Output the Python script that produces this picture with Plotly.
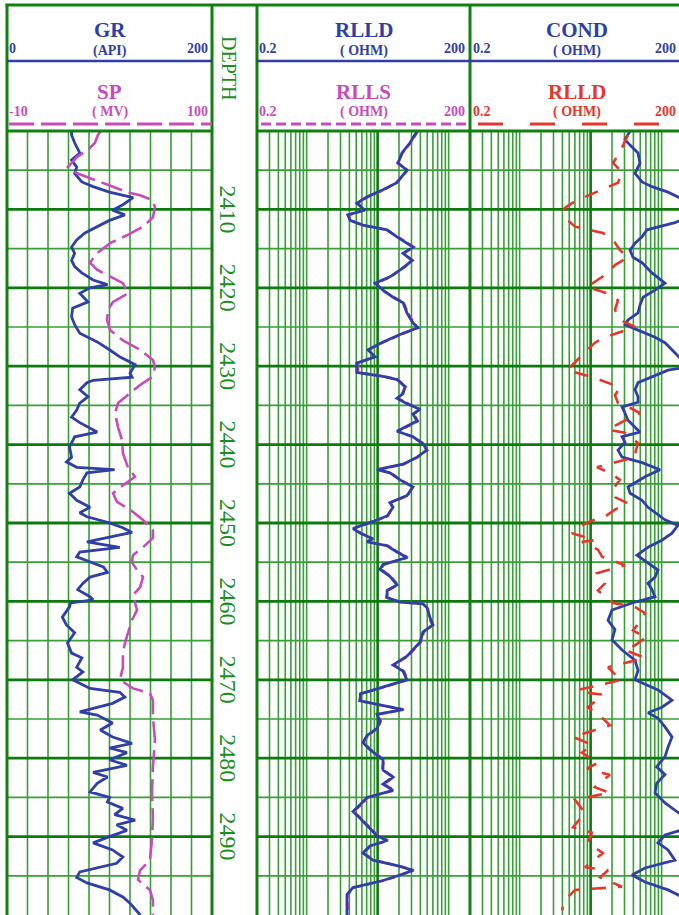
import math
import plotly.graph_objects as go

# ---------------- data (depth in ft, curve values in curve units) ----------------
gr_depth = [2400.0, 2400.5, 2401.5, 2402.8, 2403.7, 2404.6, 2405.4, 2406.5, 2407.1, 2407.8,
            2408.5, 2409.4, 2410.1, 2410.7, 2411.4, 2412.2, 2413.0, 2413.9, 2414.8, 2415.6,
            2416.5, 2417.3, 2418.1, 2419.0, 2419.6, 2420.0, 2420.7, 2421.8, 2422.6, 2423.7,
            2424.7, 2425.8, 2426.9, 2427.9, 2428.8, 2429.8, 2430.9, 2431.4, 2431.8, 2432.1,
            2433.0, 2433.9, 2434.7, 2435.6, 2436.5, 2437.2, 2438.4, 2439.0, 2440.3, 2441.6,
            2442.2, 2442.9, 2443.2, 2443.6, 2444.5, 2445.4, 2446.2, 2447.1, 2448.0, 2448.7,
            2449.2, 2449.9, 2450.6, 2451.2, 2451.8, 2452.4, 2453.1, 2453.7, 2454.3, 2455.0,
            2455.6, 2456.3, 2456.9, 2457.7, 2458.5, 2459.4, 2459.8, 2460.2, 2460.7, 2462.0,
            2463.0, 2464.0, 2465.3, 2466.6, 2467.2, 2468.4, 2469.0, 2470.0, 2471.1, 2471.6,
            2472.2, 2473.0, 2474.1, 2474.5, 2475.5, 2476.4, 2477.3, 2478.1, 2478.7, 2479.3,
            2480.2, 2480.9, 2481.8, 2482.4, 2483.2, 2484.3, 2485.0, 2485.6, 2486.4, 2487.2,
            2487.9, 2488.5, 2489.2, 2490.1, 2490.8, 2491.7, 2492.6, 2493.4, 2494.5, 2495.2,
            2495.9, 2496.8, 2497.7, 2498.5, 2499.6, 2500.0]
gr_api = [63, 63, 66, 71, 63, 68, 66, 73, 84, 100,
          123, 113, 103, 115, 100, 88, 76, 68, 63, 66,
          63, 66, 73, 84, 98, 81, 71, 79, 64, 63,
          66, 71, 88, 100, 110, 125, 120, 122, 84, 78,
          71, 79, 71, 68, 63, 71, 88, 66, 61, 63,
          58, 68, 105, 78, 74, 71, 61, 68, 81, 71,
          78, 98, 113, 122, 100, 78, 110, 71, 68, 81,
          94, 98, 81, 74, 69, 81, 84, 62, 61, 54,
          58, 66, 59, 63, 73, 68, 74, 64, 81, 110,
          115, 103, 71, 88, 103, 91, 103, 122, 100, 117,
          100, 117, 84, 98, 88, 81, 100, 98, 113, 105,
          125, 107, 117, 98, 84, 103, 113, 107, 71, 68,
          78, 100, 113, 120, 127, 130]

sp_depth = [2400.0, 2400.5, 2401.5, 2402.4, 2403.3, 2404.6, 2405.4, 2406.3, 2407.1, 2407.8,
            2408.2, 2408.8, 2409.7, 2411.0, 2412.2, 2413.3, 2414.3, 2415.6, 2416.8, 2417.7,
            2418.6, 2419.4, 2420.7, 2421.8, 2422.8, 2424.1, 2425.4, 2426.7, 2427.9, 2429.2,
            2430.2, 2431.4, 2432.4, 2433.4, 2434.7, 2436.0, 2437.8, 2439.4, 2441.1, 2442.9,
            2444.1, 2445.2, 2446.2, 2447.3, 2448.3, 2449.6, 2450.9, 2451.9, 2453.1, 2454.1,
            2455.0, 2456.0, 2456.9, 2458.2, 2459.2, 2460.2, 2461.1, 2462.4, 2464.0, 2465.3,
            2466.6, 2468.4, 2470.0, 2471.1, 2471.7, 2472.6, 2474.7, 2477.7, 2481.1, 2484.4,
            2487.5, 2490.4, 2493.0, 2494.3, 2495.5, 2496.8, 2498.1, 2500.0]
sp_mv = [40.4, 38.8, 37.2, 33.5, 27.6, 22.7, 27.6, 38.3, 46.9, 54.4,
         61.4, 67.8, 69.4, 68.3, 63.0, 54.4, 45.3, 38.3, 34.5, 38.3,
         45.3, 52.2, 54.9, 46.9, 44.2, 43.7, 45.3, 52.2, 61.4, 68.3,
         69.4, 67.8, 61.4, 56.0, 49.6, 48.0, 49.6, 51.7, 52.2, 54.9,
         58.7, 52.2, 46.9, 49.0, 56.0, 63.0, 68.3, 68.3, 63.0, 57.6,
         57.0, 59.8, 63.0, 61.4, 57.6, 58.7, 59.8, 57.0, 54.9, 53.3,
         52.2, 52.2, 50.6, 57.6, 66.7, 68.3, 68.3, 69.4, 68.3, 67.8,
         68.3, 67.8, 66.7, 61.4, 60.3, 66.7, 68.3, 68.3]

rlld_depth = [2400.0, 2400.5, 2401.5, 2402.8, 2404.1, 2405.0, 2405.6, 2406.6, 2407.5, 2408.4,
              2409.2, 2410.1, 2410.7, 2411.4, 2412.0, 2412.6, 2413.5, 2414.8, 2415.6, 2416.5,
              2417.3, 2418.6, 2419.4, 2420.3, 2421.2, 2421.9, 2423.2, 2424.5, 2425.1, 2425.8,
              2426.9, 2427.9, 2428.8, 2429.6, 2430.8, 2431.3, 2431.7, 2432.6, 2433.5, 2434.1,
              2434.8, 2435.5, 2436.1, 2437.0, 2438.3, 2439.0, 2439.9, 2440.7, 2441.6, 2442.5,
              2443.2, 2443.6, 2444.5, 2445.4, 2446.5, 2447.4, 2448.0, 2449.1, 2449.8, 2450.7,
              2451.3, 2452.0, 2452.4, 2452.9, 2453.7, 2454.4, 2455.3, 2455.9, 2456.8, 2457.9,
              2458.6, 2459.5, 2460.1, 2460.3, 2460.8, 2462.1, 2463.0, 2463.9, 2465.2, 2466.1,
              2467.0, 2468.1, 2468.9, 2470.0, 2470.9, 2471.8, 2472.7, 2473.3, 2473.8, 2474.4,
              2475.3, 2476.2, 2477.1, 2478.0, 2478.9, 2480.2, 2481.5, 2482.4, 2483.3, 2484.1,
              2485.0, 2485.9, 2486.8, 2487.7, 2489.0, 2489.9, 2490.5, 2491.2, 2492.1, 2493.0,
              2493.8, 2494.3, 2494.9, 2495.6, 2496.5, 2497.4, 2498.5, 2500.0]
rlld_ohm = [36, 33.6, 28.6, 22.0, 19.4, 25.9, 22.8, 18.7, 11.9, 7.1,
            5.1, 6.6, 3.8, 4.1, 6.2, 13.6, 18.7, 31.5, 22.8, 30.5,
            24.3, 14.9, 9.2, 11.9, 16.5, 22.8, 25.9, 31.5, 37.1, 22.8,
            11.9, 7.3, 9.2, 5.1, 5.1, 11.9, 18.7, 24.3, 22.8, 18.7,
            25.9, 39.5, 31.5, 35.9, 18.7, 31.5, 43.6, 49.6, 35.9, 22.8,
            9.8, 14.9, 20.7, 31.5, 25.9, 14.9, 16.5, 13.6, 8.6, 4.5,
            5.7, 8.6, 7.1, 13.6, 18.7, 25.9, 11.9, 10.8, 14.9, 18.7,
            13.6, 13.6, 20.7, 43.6, 49.6, 54.7, 60.2, 43.6, 39.5, 31.5,
            25.9, 16.5, 22.8, 25.9, 11.9, 5.7, 5.7, 11.9, 22.8, 9.8,
            10.8, 9.8, 7.1, 6.2, 7.8, 11.9, 11.9, 16.5, 11.9, 16.5,
            7.1, 5.7, 4.5, 5.7, 7.8, 9.8, 13.6, 7.8, 6.2, 8.6,
            20.7, 31.5, 20.7, 11.9, 4.5, 3.7, 3.7, 3.7]
rlls_ohm = [37, 34.5, 29.0, 22.5, 19.0, 26.5, 23.3, 18.2, 12.3, 7.3,
            5.3, 6.4, 3.9, 4.2, 6.0, 13.1, 19.3, 32.2, 23.5, 31.2,
            23.6, 15.4, 9.5, 11.5, 16.9, 23.4, 26.6, 32.4, 36.0, 23.6,
            12.4, 7.5, 8.9, 5.3, 5.3, 12.3, 19.2, 25.0, 22.0, 19.3,
            26.6, 38.4, 32.5, 36.9, 19.3, 30.6, 44.8, 48.2, 37.0, 23.5,
            10.1, 15.4, 21.3, 30.6, 26.7, 15.4, 16.0, 14.0, 8.9, 4.6,
            5.9, 8.3, 7.3, 14.0, 19.3, 26.6, 12.3, 11.1, 15.4, 19.3,
            14.0, 13.2, 21.3, 42.4, 51.0, 53.2, 58.6, 44.9, 40.7, 32.4,
            26.6, 17.0, 23.5, 26.7, 12.3, 5.9, 5.5, 12.3, 23.5, 10.1,
            11.1, 10.1, 7.3, 6.4, 8.0, 12.3, 11.5, 17.0, 12.3, 17.0,
            7.3, 5.9, 4.6, 5.9, 8.0, 10.1, 14.0, 8.0, 6.4, 8.9,
            21.3, 32.4, 21.3, 12.3, 4.6, 3.8, 3.8, 3.8]

cond_depth = [2400.0, 2400.5, 2401.1, 2401.8, 2402.8, 2404.1, 2405.4, 2406.5, 2407.1, 2407.8,
              2408.4, 2409.2, 2410.1, 2411.0, 2411.7, 2412.6, 2413.5, 2414.3, 2415.2, 2416.1,
              2416.8, 2418.1, 2419.4, 2420.3, 2421.2, 2422.2, 2423.2, 2424.1, 2424.7, 2425.4,
              2426.3, 2427.0, 2427.9, 2428.8, 2430.1, 2430.5, 2431.4, 2432.1, 2433.0, 2433.9,
              2434.6, 2435.2, 2436.0, 2436.9, 2437.8, 2438.4, 2439.0, 2439.7, 2440.7, 2441.6,
              2442.3, 2443.2, 2444.1, 2445.4, 2446.2, 2447.1, 2448.0, 2448.7, 2449.6, 2450.3,
              2451.3, 2452.2, 2453.1, 2454.1, 2455.1, 2456.0, 2456.9, 2457.7, 2458.5, 2459.4,
              2460.2, 2461.1, 2462.4, 2463.6, 2464.9, 2466.2, 2467.5, 2468.8, 2470.0, 2471.3,
              2472.6, 2473.5, 2474.2, 2474.9, 2476.0, 2477.3, 2478.6, 2479.8, 2481.1, 2482.1,
              2483.2, 2484.4, 2485.7, 2486.9, 2487.9, 2488.8, 2489.8, 2490.8, 2491.7, 2493.0,
              2494.0, 2494.9, 2495.8, 2496.8, 2498.1, 2500.0]
cond_val = [36, 33.6, 30.5, 35.9, 46.5, 49.6, 42.2, 53.0, 73.1, 123,
            170, 230, 260, 230, 154, 62.2, 53.0, 42.2, 35.9, 39.5,
            53.0, 73.1, 111.5, 80.7, 54.7, 49.6, 46.5, 33.6, 30.5, 46.5,
            80.7, 111.5, 140, 170, 240, 123, 73.1, 46.5, 42.2, 46.5,
            46.5, 27.7, 30.5, 33.6, 42.2, 49.6, 27.7, 30.5, 24.3, 27.7,
            53.0, 94.9, 58.3, 33.6, 35.9, 53.0, 64.3, 80.7, 111.5, 170,
            140, 101, 64.3, 45.0, 64.3, 88.9, 80.7, 64.3, 73.1, 80.7,
            38.3, 20.0, 17.6, 22.0, 20.0, 27.7, 42.2, 46.5, 42.2, 88.9,
            140, 101, 64.3, 88.9, 111.5, 140, 123, 111.5, 85, 111.5,
            85, 80.7, 111.5, 170, 240, 260, 111.5, 88.9, 123, 154,
            58.3, 38.3, 58.3, 123, 240, 260]

rlld3_depth = [2400.5, 2401.5, 2402.4, 2404.1, 2405.2, 2406.6, 2407.8, 2408.4, 2409.2, 2409.8,
               2410.5, 2411.4, 2412.2, 2413.0, 2413.9, 2415.2, 2416.1, 2417.1, 2418.1, 2419.0,
               2419.9, 2420.7, 2421.6, 2422.8, 2424.1, 2425.0, 2426.3, 2427.0, 2427.9, 2428.3,
               2429.5, 2430.5, 2431.5, 2432.1, 2432.7, 2433.7, 2434.7, 2435.3, 2436.0, 2436.9,
               2438.1, 2438.5, 2439.8, 2440.7, 2441.6, 2442.9, 2443.6, 2444.5, 2445.8, 2446.7,
               2447.5, 2448.3, 2449.2, 2449.7, 2450.3, 2451.3, 2451.8, 2452.2, 2452.4, 2452.9,
               2453.4, 2454.3, 2454.9, 2455.4, 2456.4, 2457.0, 2457.7, 2458.6, 2459.4, 2460.2,
               2460.7, 2461.5, 2462.6, 2463.7, 2464.2, 2464.5, 2465.6, 2466.2, 2466.7, 2467.2,
               2468.4, 2469.3, 2470.0, 2471.3, 2471.7, 2471.9, 2473.5, 2474.6, 2475.8, 2477.3,
               2477.8, 2478.3, 2479.3, 2480.0, 2480.6, 2481.3, 2481.8, 2482.1, 2483.7, 2484.1,
               2484.4, 2485.3, 2486.1, 2487.0, 2488.8, 2489.2, 2489.5, 2490.8, 2491.5, 2492.1,
               2493.9, 2494.1, 2494.3, 2495.2, 2495.8, 2496.4, 2496.8, 2498.1, 2499.4]
rlld3_ohm = [33.6, 29.5, 26.8, 20.7, 27.7, 24.3, 11.5, 8.33, 5.47, 4.35,
             4.08, 4.80, 6.03, 14.9, 20.7, 25.9, 33.6, 22.0, 17.6, 12.3,
             8.89, 17.0, 24.3, 22.0, 25.9, 42.2, 15.9, 11.5, 9.18, 8.33,
             6.03, 4.65, 11.5, 17.6, 25.9, 22.0, 24.3, 35.9, 49.6, 30.5,
             17.6, 30.5, 46.5, 43.6, 42.2, 12.3, 18.7, 25.9, 20.0, 22.0,
             33.6, 22.0, 15.9, 10.45, 7.55, 5.47, 8.33, 11.5, 7.55, 9.80,
             12.7, 14.5, 22.0, 30.5, 12.3, 14.0, 15.9, 12.7, 16.5, 20.7,
             42.2, 58.3, 49.6, 39.5, 49.6, 62.2, 42.2, 30.5, 42.2, 58.3,
             17.6, 22.0, 27.7, 6.64, 9.80, 14.9, 9.18, 13.6, 18.7, 5.65,
             7.81, 10.45, 7.55, 9.80, 12.7, 8.89, 12.7, 18.7, 11.5, 14.9,
             18.7, 6.03, 7.08, 8.33, 5.65, 7.81, 10.45, 9.18, 11.9, 14.9,
             8.33, 12.3, 17.6, 13.6, 19.4, 27.7, 6.03, 4.35, 3.95]

depth_labels = [2410, 2420, 2430, 2440, 2450, 2460, 2470, 2480, 2490]
depth_minor = [2405, 2415, 2425, 2435, 2445, 2455, 2465, 2475, 2485, 2495]
gr_grid = [20, 40, 60, 80, 100, 120, 140, 160, 180]
log_grid_thin = [0.3, 0.4, 0.5, 0.6, 0.7, 0.8, 0.9, 1, 2, 3, 4, 5, 6, 7, 8, 9,
                 20, 30, 40, 50, 60, 70, 80, 90, 100]
log_grid_thick = [10]

# ---------------- layout geometry (pixels) ----------------
W, H = 679, 915
T1 = (7, 212)
T2 = (257, 470)
T3L = 470
TRACK_W = 213
Y_TOP = 131

def fx(p):
    return p / W

def fy(p):
    return 1 - p / H

GREEN_THIN = "#36a036"
GREEN_THICK = "#0c7a0c"
BORDER = "#118011"
BLUE = "#2f3fa6"
MAGENTA = "#c84bbd"
RED = "#e8362c"
TXT_GREEN = "#1d8e1d"
FONT = "Liberation Serif"

fig = go.Figure()


def add_lines(xs, ys, xaxis, color, width):
    fig.add_trace(go.Scatter(x=xs, y=ys, xaxis=xaxis, yaxis="y", mode="lines",
                             line=dict(color=color, width=width),
                             hoverinfo="skip", showlegend=False))


def hseg(depths, a, b):
    xs, ys = [], []
    for d in depths:
        xs += [a, b, None]
        ys += [d, d, None]
    return xs, ys


def vseg(vals):
    xs, ys = [], []
    for v in vals:
        xs += [v, v, None]
        ys += [2400, 2500, None]
    return xs, ys


# grids
for ax, lo, hi, vthin, vthick in [("x", 0, 200, gr_grid, []),
                                   ("x3", 0.2, 200, log_grid_thin, log_grid_thick),
                                   ("x4", 0.2, 200, log_grid_thin, log_grid_thick)]:
    add_lines(*vseg(vthin), ax, GREEN_THIN, 1.6)
    add_lines(*hseg(depth_minor, lo, hi), ax, GREEN_THIN, 1.7)
    if vthick:
        add_lines(*vseg(vthick), ax, GREEN_THICK, 2.6)
    add_lines(*hseg(depth_labels, lo, hi), ax, GREEN_THICK, 2.8)

# curves
fig.add_trace(go.Scatter(x=sp_mv, y=sp_depth, xaxis="x2", yaxis="y", mode="lines",
                         line=dict(color=MAGENTA, width=2.6, dash="22px,7px"),
                         hoverinfo="skip", showlegend=False))
fig.add_trace(go.Scatter(x=gr_api, y=gr_depth, xaxis="x", yaxis="y", mode="lines",
                         line=dict(color=BLUE, width=2.8),
                         hoverinfo="skip", showlegend=False))
fig.add_trace(go.Scatter(x=rlls_ohm, y=rlld_depth, xaxis="x3", yaxis="y", mode="lines",
                         line=dict(color=MAGENTA, width=2.6, dash="8px,4px"),
                         hoverinfo="skip", showlegend=False))
fig.add_trace(go.Scatter(x=rlld_ohm, y=rlld_depth, xaxis="x3", yaxis="y", mode="lines",
                         line=dict(color=BLUE, width=2.8),
                         hoverinfo="skip", showlegend=False))
fig.add_trace(go.Scatter(x=cond_val, y=cond_depth, xaxis="x4", yaxis="y", mode="lines",
                         line=dict(color=BLUE, width=2.8),
                         hoverinfo="skip", showlegend=False))
fig.add_trace(go.Scatter(x=rlld3_ohm, y=rlld3_depth, xaxis="x4", yaxis="y", mode="lines",
                         line=dict(color=RED, width=2.6, dash="14px,12px"),
                         hoverinfo="skip", showlegend=False))

lg_lo = math.log10(0.2)
fig.update_layout(
    width=W, height=H,
    margin=dict(l=0, r=0, t=0, b=0, pad=0),
    paper_bgcolor="white", plot_bgcolor="white",
    showlegend=False,
    xaxis=dict(domain=[fx(T1[0]), fx(T1[1])], range=[0, 200], visible=False, anchor="y"),
    xaxis2=dict(domain=[fx(T1[0]), fx(T1[1])], range=[-10, 100], visible=False,
                overlaying="x", anchor="y"),
    xaxis3=dict(domain=[fx(T2[0]), fx(T2[1])], type="log",
                range=[lg_lo, math.log10(200)], visible=False, anchor="y"),
    xaxis4=dict(domain=[fx(T3L), 1], type="log",
                range=[lg_lo, lg_lo + 3 * (W - T3L) / TRACK_W], visible=False, anchor="y"),
    yaxis=dict(domain=[0, fy(Y_TOP)], range=[2500, 2400], visible=False, anchor="x"),
)

shapes = []


def pline(x0, y0, x1, y1, color, width, dash=None):
    ln = dict(color=color, width=width)
    if dash:
        ln["dash"] = dash
    shapes.append(dict(type="line", xref="paper", yref="paper",
                       x0=fx(x0), y0=fy(y0), x1=fx(x1), y1=fy(y1), line=ln, layer="above"))


# frame
for xv in (T1[0], T1[1], T2[0], T2[1]):
    pline(xv, 4, xv, H, BORDER, 3)
pline(T1[0] - 1.5, 5, W, 5, BORDER, 3)
pline(T1[0], Y_TOP, T1[1], Y_TOP, BORDER, 3)
pline(T2[0], Y_TOP, W, Y_TOP, BORDER, 3)
# header curve keys
pline(T1[0], 61, T1[1], 61, BLUE, 2.6)
pline(T2[0], 61, T2[1], 61, BLUE, 2.6)
pline(T3L, 61, W, 61, BLUE, 2.6)
pline(T1[0] + 2, 124, T1[1], 124, MAGENTA, 3, "25px,7px")
pline(T2[0] + 4, 124, T2[1], 124, MAGENTA, 3, "10px,5px")
pline(T3L + 8, 124, W, 124, RED, 3, "25px,27px")
fig.update_layout(shapes=shapes)


def label(text, x, y, color, size, bold=True, xanchor="center", angle=0, yref="paper"):
    fig.add_annotation(text=f"<b>{text}</b>" if bold else text,
                       x=fx(x), y=(fy(y) if yref == "paper" else y),
                       xref="paper", yref=yref, showarrow=False,
                       xanchor=xanchor, yanchor="middle", textangle=angle,
                       borderpad=0,
                       font=dict(family=FONT, size=size, color=color))


c1 = (T1[0] + T1[1]) / 2
c2 = (T2[0] + T2[1]) / 2
c3 = T3L + TRACK_W / 2
for (cx, lx, rx, top_name, top_unit, top_col, bot_name, bot_unit, bot_col, lo_a, hi_a, lo_b, hi_b) in [
    (c1, T1[0] + 1, T1[1] - 3, "GR", "(API)", BLUE, "SP", "( MV)", MAGENTA, "0", "200", "-10", "100"),
    (c2, T2[0] + 1, T2[1] - 4, "RLLD", "( OHM)", BLUE, "RLLS", "( OHM)", MAGENTA, "0.2", "200", "0.2", "200"),
    (c3, T3L + 2, W - 2, "COND", "( OHM)", BLUE, "RLLD", "( OHM)", RED, "0.2", "200", "0.2", "200"),
]:
    label(top_name, cx, 30, top_col, 21)
    label(top_unit, cx, 51, top_col, 14)
    label(lo_a, lx, 48, top_col, 14, xanchor="left")
    label(hi_a, rx, 48, top_col, 14, xanchor="right")
    label(bot_name, cx, 92, bot_col, 21)
    label(bot_unit, cx, 112, bot_col, 14)
    label(lo_b, lx, 112, bot_col, 14, xanchor="left")
    label(hi_b, rx, 112, bot_col, 14, xanchor="right")

label("DEPTH", 229, 68, TXT_GREEN, 20, bold=False, angle=90)
for d in depth_labels:
    label(str(d), 228, d, TXT_GREEN, 24, bold=False, angle=90, yref="y")

fig.write_html("out.html",
               config={"displayModeBar": False, "staticPlot": True},
               post_script="document.body.style.margin='0px';document.body.style.overflow='hidden';")
